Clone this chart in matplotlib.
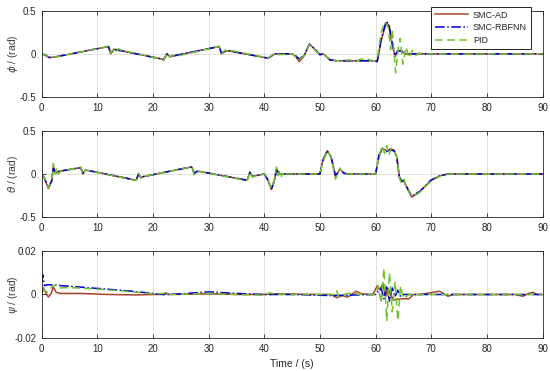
import matplotlib
matplotlib.use("Agg")
import matplotlib.pyplot as plt

# phi (roll) knots: time / value
phi_ad_t = [0, 0.5, 1.3, 2.5, 11.6, 12.0, 12.4, 13.0, 13.6, 21.6, 21.9, 22.5, 23.1, 23.6, 31.5, 31.9, 32.3, 33.1, 33.6, 40.3, 40.8, 41.9, 45.0, 45.6, 46.3, 47.2, 48.1, 49.0, 50.0, 50.6, 51.8, 53.0, 59.8, 60.3, 61.0, 61.9, 62.4, 63.0, 63.5, 64.0, 64.6, 65.3, 66.5, 90]
phi_ad_v = [0, -0.01, -0.045, -0.035, 0.08, 0.085, 0.0, 0.055, 0.045, -0.06, -0.07, 0.0, -0.035, -0.025, 0.08, 0.085, 0.0, 0.035, 0.035, -0.045, -0.045, 0.0, 0.0, -0.03, -0.09, -0.02, 0.11, 0.06, -0.01, 0.0, -0.07, -0.08, -0.08, -0.09, 0.15, 0.36, 0.33, 0.10, -0.03, 0.03, 0.04, 0.0, 0.0, 0.0]

phi_nn_t = [0, 0.5, 1.3, 2.5, 11.6, 12.0, 12.4, 13.0, 13.6, 21.6, 21.9, 22.5, 23.1, 23.6, 31.5, 31.9, 32.3, 33.1, 33.6, 40.3, 40.8, 41.9, 45.0, 45.6, 46.3, 47.2, 48.1, 49.0, 50.0, 50.6, 51.8, 53.0, 59.8, 60.3, 61.0, 61.9, 62.4, 63.0, 63.5, 64.0, 64.6, 65.3, 66.5, 90]
phi_nn_v = [0, -0.01, -0.04, -0.035, 0.08, 0.085, 0.01, 0.05, 0.045, -0.06, -0.07, 0.0, -0.03, -0.025, 0.08, 0.085, 0.01, 0.035, 0.035, -0.045, -0.045, 0.0, 0.0, -0.02, -0.06, -0.01, 0.115, 0.06, -0.01, 0.0, -0.07, -0.08, -0.08, -0.09, 0.17, 0.38, 0.34, 0.12, -0.02, 0.04, 0.03, 0.0, 0.0, 0.0]

phi_pid_t = [0, 0.5, 1.3, 2.5, 11.6, 12.0, 12.4, 13.0, 13.4, 13.8, 14.2, 21.6, 21.9, 22.5, 23.1, 23.5, 24.0, 24.4, 31.5, 31.9, 32.3, 33.1, 33.5, 34.0, 40.3, 40.8, 41.9, 42.5, 45.0, 45.6, 46.3, 47.2, 48.1, 49.0, 50.0, 50.6, 51.8, 53.0, 55.5, 56.2, 57.0, 58.0, 59.0, 59.8, 60.3, 61.0, 61.7, 62.3, 62.7, 63.0, 63.6, 64.0, 64.4, 64.9, 65.5, 66.0, 66.6, 67.2, 67.8, 68.5, 90]
phi_pid_v = [0, -0.01, -0.04, -0.035, 0.08, 0.09, 0.01, 0.065, 0.03, 0.06, 0.045, -0.06, -0.07, 0.01, -0.04, -0.01, -0.03, -0.025, 0.08, 0.09, 0.01, 0.045, 0.02, 0.04, -0.045, -0.045, 0.01, -0.01, 0.0, -0.03, -0.07, -0.01, 0.11, 0.05, -0.01, 0.0, -0.07, -0.08, -0.07, -0.1, -0.07, -0.05, -0.07, -0.08, -0.06, 0.25, 0.37, 0.30, 0.05, 0.28, -0.22, 0.02, 0.18, -0.12, 0.08, -0.05, 0.04, -0.02, 0.01, 0.0, 0.0]

# theta (pitch) knots
th_ad_t = [0, 0.5, 1.2, 1.8, 2.1, 2.5, 3.0, 6.6, 7.0, 7.4, 7.9, 8.4, 16.8, 17.0, 17.4, 17.8, 18.3, 26.7, 27.0, 27.4, 27.9, 28.4, 36.7, 37.0, 37.4, 37.9, 38.4, 40.0, 40.5, 41.3, 41.8, 42.2, 42.7, 43.5, 50.0, 50.5, 51.3, 52.0, 52.8, 53.6, 54.3, 55.0, 60.0, 60.6, 61.2, 62.0, 62.6, 63.3, 63.8, 64.3, 64.7, 65.1, 65.5, 66.5, 68.0, 70.0, 71.6, 73.0, 90]
th_ad_v = [0, -0.05, -0.17, -0.08, 0.08, 0.01, 0.03, 0.07, 0.075, 0.0, 0.045, 0.04, -0.07, -0.07, 0.0, -0.04, -0.03, 0.08, 0.08, 0.0, 0.03, 0.03, -0.07, -0.065, 0.02, -0.03, -0.02, 0.0, -0.05, -0.18, -0.08, 0.06, 0.0, 0.0, 0.0, 0.15, 0.27, 0.2, -0.03, 0.06, 0.01, 0.0, 0.0, 0.2, 0.3, 0.27, 0.29, 0.28, 0.2, -0.05, -0.09, -0.08, -0.14, -0.27, -0.2, -0.07, -0.02, 0.0, 0.0]

th_nn_t = th_ad_t
th_nn_v = [0, -0.05, -0.16, -0.08, 0.07, 0.01, 0.03, 0.07, 0.075, 0.01, 0.045, 0.04, -0.07, -0.07, 0.0, -0.04, -0.03, 0.08, 0.08, 0.01, 0.03, 0.03, -0.07, -0.065, 0.02, -0.03, -0.02, 0.0, -0.05, -0.17, -0.08, 0.05, 0.0, 0.0, 0.0, 0.16, 0.27, 0.2, -0.02, 0.05, 0.01, 0.0, 0.0, 0.22, 0.29, 0.26, 0.28, 0.27, 0.2, -0.04, -0.08, -0.08, -0.14, -0.26, -0.2, -0.07, -0.02, 0.0, 0.0]

th_pid_t = [0, 0.5, 1.2, 1.8, 2.1, 2.4, 2.7, 3.0, 3.4, 6.6, 7.0, 7.4, 7.9, 8.4, 16.8, 17.0, 17.4, 17.8, 18.3, 26.7, 27.0, 27.4, 27.9, 28.4, 36.7, 37.0, 37.4, 37.9, 38.4, 40.0, 40.5, 41.3, 41.8, 42.2, 42.5, 42.8, 43.1, 43.4, 44.0, 50.0, 50.5, 51.3, 52.0, 52.8, 53.6, 54.3, 55.0, 60.0, 60.6, 61.2, 61.6, 62.0, 62.4, 62.8, 63.3, 63.8, 64.3, 64.7, 65.1, 65.5, 66.7, 68.0, 70.0, 71.8, 73.2, 90]
th_pid_v = [0, -0.05, -0.16, -0.06, 0.12, 0.0, 0.07, 0.0, 0.03, 0.075, 0.08, -0.01, 0.05, 0.04, -0.075, -0.07, 0.01, -0.05, -0.03, 0.08, 0.085, -0.01, 0.03, 0.03, -0.075, -0.065, 0.03, -0.035, -0.02, 0.0, -0.04, -0.17, -0.07, 0.08, -0.02, 0.05, -0.03, 0.03, 0.0, 0.0, 0.14, 0.27, 0.2, -0.06, 0.07, 0.0, 0.0, 0.0, 0.2, 0.33, 0.24, 0.33, 0.22, 0.3, 0.28, 0.2, -0.05, -0.11, -0.06, -0.15, -0.27, -0.21, -0.08, -0.02, 0.0, 0.0]

# psi (yaw) knots
psi_ad_t = [0, 0.3, 0.7, 1.2, 1.7, 2.1, 2.6, 3.5, 7, 12, 17, 20, 22, 22.3, 22.7, 30, 35, 40, 42, 50, 52, 53, 54, 55, 56.5, 57.5, 59.5, 60.3, 60.8, 61.3, 61.8, 62.2, 62.7, 63.2, 64.5, 66, 66.8, 68, 71.5, 72.5, 73, 74, 85, 86.5, 87.5, 88.3, 89, 90]
psi_ad_v = [0, 0.003, 0.001, -0.0012, 0.0005, 0.0035, 0.001, 0.0005, 0.0005, 0.0, -0.0002, 0.0, 0.0, 0.0008, 0.0, 0.0003, 0.0, 0.0, 0.0003, 0.0, 0.0, -0.0015, -0.0005, -0.0012, 0.0015, 0.0003, 0.0, 0.004, 0.002, 0.005, -0.001, 0.003, 0.0, -0.0025, -0.002, -0.002, 0.0, 0.0, 0.0015, 0.0, -0.0008, 0.0, 0.0, -0.0008, 0.0005, 0.001, 0.0, 0.0]

psi_nn_t = [0, 0.2, 0.5, 1.0, 5, 10, 15, 20, 22, 25, 30, 35, 40, 45, 52, 55, 60, 61, 61.5, 62, 62.5, 63, 63.5, 64, 64.5, 65, 90]
psi_nn_v = [0.006, 0.009, 0.004, 0.0045, 0.0038, 0.0028, 0.0018, 0.0005, 0.0, 0.0003, 0.0012, 0.0005, 0.0, 0.0, -0.0005, -0.0003, 0.0, 0.003, -0.002, 0.004, -0.003, 0.003, -0.001, 0.002, -0.001, 0.0, 0.0]

psi_pid_t = [0, 1, 2, 2.5, 3, 5, 10, 15, 20, 22, 22.3, 23, 30, 35, 40, 41, 42, 50, 52.5, 53, 53.3, 54, 56, 57, 60, 60.5, 61, 61.5, 62, 62.5, 63, 63.5, 64, 64.5, 65, 66, 90]
psi_pid_v = [0.003, 0.001, 0.004, 0.0045, 0.003, 0.0032, 0.0025, 0.0015, 0.0003, 0.0005, 0.001, 0.0, 0.0005, 0.0, -0.0003, 0.0008, 0.0, 0.0, 0.0, 0.002, -0.001, 0.0, 0.0008, 0.0, 0.0, 0.004, -0.004, 0.012, -0.012, 0.01, -0.008, 0.006, -0.012, 0.004, -0.002, 0.0, 0.0]

labels = ["SMC-AD", "SMC-RBFNN", "PID"]
c_ad = "#a8462a"
c_nn = "#0000cc"
c_pid = "#6dc22e"
txt = "#262626"

plt.rcParams["font.family"] = ["Liberation Sans", "DejaVu Sans"]
plt.rcParams["axes.unicode_minus"] = False
plt.rcParams["mathtext.fontset"] = "dejavusans"

fig = plt.figure(figsize=(5.5, 3.71), dpi=100)
boxes = [[0.0758, 0.7385, 0.9106, 0.2327],
         [0.0758, 0.4151, 0.9106, 0.2318],
         [0.0758, 0.0889, 0.9106, 0.2346]]
panels = [
    (phi_ad_t, phi_ad_v, phi_nn_t, phi_nn_v, phi_pid_t, phi_pid_v, 0.5, r"$\phi$ / (rad)", ["-0.5", "0", "0.5"]),
    (th_ad_t, th_ad_v, th_nn_t, th_nn_v, th_pid_t, th_pid_v, 0.5, r"$\theta$ / (rad)", ["-0.5", "0", "0.5"]),
    (psi_ad_t, psi_ad_v, psi_nn_t, psi_nn_v, psi_pid_t, psi_pid_v, 0.02, r"$\psi$ / (rad)", ["-0.02", "0", "0.02"]),
]

axes = []
for box, p in zip(boxes, panels):
    ax = fig.add_axes(box)
    at, av, nt, nv, pt, pv, lim, ylab, yticklabels = p
    ax.plot(at, av, color=c_ad, lw=1.1, label=labels[0])
    ax.plot(nt, nv, color=c_nn, lw=1.1, ls="-.", label=labels[1])
    ax.plot(pt, pv, color=c_pid, lw=1.1, ls=(0, (5, 3)), label=labels[2])
    ax.set_xlim(0, 90)
    ax.set_ylim(-lim, lim)
    ax.set_xticks(range(0, 91, 10))
    ax.set_yticks([-lim, 0, lim])
    ax.set_yticklabels(yticklabels)
    ax.set_ylabel(ylab, fontsize=7.5, color="#404040")
    ax.yaxis.set_label_coords(-0.043, 0.5)
    ax.grid(True, color="#dcdcdc", lw=0.6)
    ax.set_axisbelow(True)
    ax.tick_params(direction="in", length=3, width=0.6, labelsize=7, colors=txt,
                   top=True, right=True, pad=4)
    for s in ax.spines.values():
        s.set_color(txt)
        s.set_linewidth(0.6)
    axes.append(ax)

axes[2].set_xlabel("Time / (s)", fontsize=7.5, color=txt, labelpad=4)

leg = axes[0].legend(loc="upper right", bbox_to_anchor=(0.986, 1.10), fontsize=6.5,
                     handlelength=3.6, handletextpad=0.6, labelspacing=0.4,
                     borderpad=0.45, fancybox=False, framealpha=1)
leg.get_frame().set_edgecolor("#000000")
leg.get_frame().set_linewidth(0.6)
for t in leg.get_texts():
    t.set_color(txt)

fig.savefig("out.png", dpi=100)
